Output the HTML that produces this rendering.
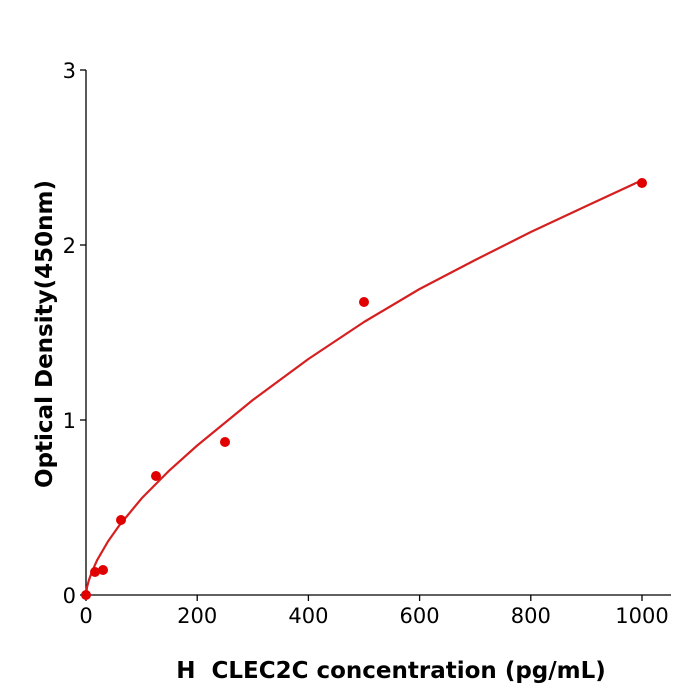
<!DOCTYPE html>
<html><head><style>body{margin:0;background:#fff}svg{display:block}</style></head><body>
<svg width="700" height="700" xmlns="http://www.w3.org/2000/svg" font-family="'DejaVu Sans','Liberation Sans',sans-serif">
<rect width="700" height="700" fill="#fff"/>
<g stroke="#000" stroke-width="1.3" fill="none">
<line x1="86" y1="70" x2="86" y2="595"/>
<line x1="86" y1="595" x2="671" y2="595"/>
<line x1="80" y1="595" x2="86" y2="595"/><line x1="80" y1="420" x2="86" y2="420"/><line x1="80" y1="245" x2="86" y2="245"/><line x1="80" y1="70" x2="86" y2="70"/>
<line x1="86" y1="595" x2="86" y2="601"/><line x1="197.2" y1="595" x2="197.2" y2="601"/><line x1="308.4" y1="595" x2="308.4" y2="601"/><line x1="419.6" y1="595" x2="419.6" y2="601"/><line x1="530.8" y1="595" x2="530.8" y2="601"/><line x1="642" y1="595" x2="642" y2="601"/>
</g>
<g font-size="21" fill="#000">
<g text-anchor="end"><text x="76" y="603">0</text><text x="76" y="428">1</text><text x="76" y="253">2</text><text x="76" y="78">3</text></g>
<g text-anchor="middle"><text x="86" y="623">0</text><text x="197.2" y="623">200</text><text x="308.4" y="623">400</text><text x="419.6" y="623">600</text><text x="530.8" y="623">800</text><text x="642" y="623">1000</text></g>
</g>
<text x="391" y="678" font-size="23" font-weight="bold" text-anchor="middle" xml:space="preserve">H  CLEC2C concentration (pg/mL)</text>
<text transform="translate(52,334) rotate(-90)" font-size="23" font-weight="bold" text-anchor="middle">Optical Density(450nm)</text>
<polyline fill="none" stroke="#d62020" stroke-width="2.2" stroke-linejoin="round" points="86,595 87.1,586.9 88.8,580.5 91.6,572.6 97.1,560.2 108.2,541.1 119.4,525.3 141.6,498.4 169.4,470.4 197.2,445.5 252.8,400 308.4,359 364,322 419.6,289 475.2,260 530.8,232 586.4,206 642,180.2"/>
<g fill="#e00000">
<circle cx="86" cy="595" r="5"/><circle cx="95" cy="572" r="5"/><circle cx="103" cy="570" r="5"/><circle cx="121" cy="520" r="5"/><circle cx="156" cy="476" r="5"/><circle cx="225" cy="442" r="5"/><circle cx="364" cy="302" r="5"/><circle cx="642" cy="183" r="5"/>
</g>
</svg>
</body></html>
